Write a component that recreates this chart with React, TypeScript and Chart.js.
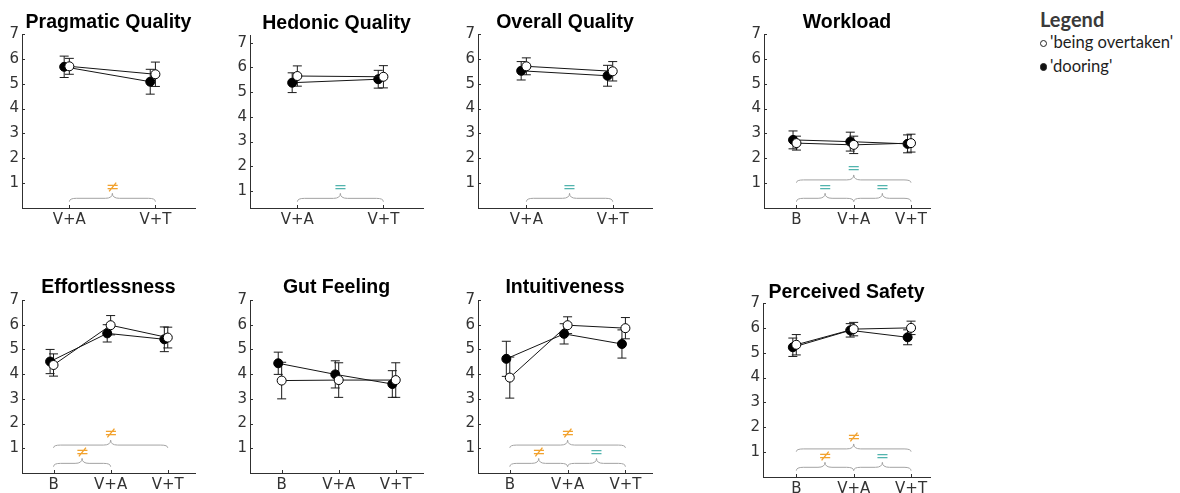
import React, { useEffect, useRef } from 'react';
import { Chart, registerables } from 'chart.js';

Chart.register(...registerables);

// ---------------- DATA ----------------
const CATEGORIES_3 = ['B', 'V+A', 'V+T'];
const CATEGORIES_2 = ['V+A', 'V+T'];
const SERIES_NAMES = ["'being overtaken'", "'dooring'"];
const Y_TICKS = [1, 2, 3, 4, 5, 6, 7];
const LEGEND_TITLE = 'Legend';

const PANEL_TITLES = [
  'Pragmatic Quality', 'Hedonic Quality', 'Overall Quality', 'Workload',
  'Effortlessness', 'Gut Feeling', 'Intuitiveness', 'Perceived Safety',
];

const pragmaticOvertaken = [5.70, 5.38];
const pragmaticOvertakenErr = [0.32, 0.49];
const pragmaticDooring = [5.68, 5.08];
const pragmaticDooringErr = [0.43, 0.50];

const hedonicOvertaken = [5.65, 5.62];
const hedonicOvertakenErr = [0.41, 0.45];
const hedonicDooring = [5.38, 5.52];
const hedonicDooringErr = [0.40, 0.36];

const overallOvertaken = [5.70, 5.50];
const overallOvertakenErr = [0.34, 0.39];
const overallDooring = [5.52, 5.32];
const overallDooringErr = [0.37, 0.42];

const workloadOvertaken = [2.61, 2.54, 2.61];
const workloadOvertakenErr = [0.28, 0.35, 0.36];
const workloadDooring = [2.74, 2.67, 2.58];
const workloadDooringErr = [0.36, 0.38, 0.36];

const effortOvertaken = [4.37, 5.98, 5.48];
const effortOvertakenErr = [0.45, 0.39, 0.42];
const effortDooring = [4.51, 5.65, 5.41];
const effortDooringErr = [0.49, 0.35, 0.50];

const gutOvertaken = [3.74, 3.76, 3.76];
const gutOvertakenErr = [0.74, 0.70, 0.70];
const gutDooring = [4.44, 3.99, 3.60];
const gutDooringErr = [0.45, 0.55, 0.54];

const intuitOvertaken = [3.86, 5.98, 5.86];
const intuitOvertakenErr = [0.83, 0.34, 0.43];
const intuitDooring = [4.62, 5.63, 5.22];
const intuitDooringErr = [0.71, 0.41, 0.57];

const safetyOvertaken = [5.32, 5.95, 6.00];
const safetyOvertakenErr = [0.41, 0.27, 0.27];
const safetyDooring = [5.22, 5.90, 5.62];
const safetyDooringErr = [0.37, 0.27, 0.30];

// significance comparisons: [from, to, result]
const pragmaticTests = [['V+A', 'V+T', '≠']];
const hedonicTests = [['V+A', 'V+T', '=']];
const overallTests = [['V+A', 'V+T', '=']];
const workloadTests = [['B', 'V+A', '='], ['V+A', 'V+T', '='], ['B', 'V+T', '=']];
const effortTests = [['B', 'V+A', '≠'], ['B', 'V+T', '≠']];
const gutTests: string[][] = [];
const intuitTests = [['B', 'V+A', '≠'], ['V+A', 'V+T', '='], ['B', 'V+T', '≠']];
const safetyTests = [['B', 'V+A', '≠'], ['V+A', 'V+T', '='], ['B', 'V+T', '≠']];

const PANELS = [
  { cats: CATEGORIES_2, ov: pragmaticOvertaken, ovErr: pragmaticOvertakenErr, dr: pragmaticDooring, drErr: pragmaticDooringErr, tests: pragmaticTests },
  { cats: CATEGORIES_2, ov: hedonicOvertaken, ovErr: hedonicOvertakenErr, dr: hedonicDooring, drErr: hedonicDooringErr, tests: hedonicTests },
  { cats: CATEGORIES_2, ov: overallOvertaken, ovErr: overallOvertakenErr, dr: overallDooring, drErr: overallDooringErr, tests: overallTests },
  { cats: CATEGORIES_3, ov: workloadOvertaken, ovErr: workloadOvertakenErr, dr: workloadDooring, drErr: workloadDooringErr, tests: workloadTests },
  { cats: CATEGORIES_3, ov: effortOvertaken, ovErr: effortOvertakenErr, dr: effortDooring, drErr: effortDooringErr, tests: effortTests },
  { cats: CATEGORIES_3, ov: gutOvertaken, ovErr: gutOvertakenErr, dr: gutDooring, drErr: gutDooringErr, tests: gutTests },
  { cats: CATEGORIES_3, ov: intuitOvertaken, ovErr: intuitOvertakenErr, dr: intuitDooring, drErr: intuitDooringErr, tests: intuitTests },
  { cats: CATEGORIES_3, ov: safetyOvertaken, ovErr: safetyOvertakenErr, dr: safetyDooring, drErr: safetyDooringErr, tests: safetyTests },
];

// ---------------- LAYOUT / STYLE ----------------
const FRAMES = [
  { left: 22, right: 195, top: 34, bottom: 208, xMin: -0.55, xMax: 1.46, yMin: 0, yMax: 7, titleGap: 11.2 },
  { left: 250, right: 423, top: 35, bottom: 208, xMin: -0.55, xMax: 1.46, yMin: 0.31, yMax: 7.31, titleGap: 11.5 },
  { left: 478, right: 652, top: 34, bottom: 208, xMin: -0.56, xMax: 1.455, yMin: 0, yMax: 7, titleGap: 11.2 },
  { left: 764, right: 930, top: 34, bottom: 208, xMin: -0.567, xMax: 2.332, yMin: 0, yMax: 7, titleGap: 11.4 },
  { left: 22, right: 195, top: 300, bottom: 473, xMin: -0.552, xMax: 2.477, yMin: 0, yMax: 7, titleGap: 12.4 },
  { left: 250, right: 423, top: 300, bottom: 473, xMin: -0.555, xMax: 2.478, yMin: 0, yMax: 7, titleGap: 12.3 },
  { left: 478, right: 652, top: 300, bottom: 473, xMin: -0.55, xMax: 2.46, yMin: 0, yMax: 7, titleGap: 12.4 },
  { left: 763, right: 930, top: 303, bottom: 477, xMin: -0.58, xMax: 2.33, yMin: 0, yMax: 7, titleGap: 10.8 },
];

const Y_AXIS_W = 22;
const TOP_SPACE = 34;
const BOTTOM_SPACE = 24;
const RIGHT_PAD = 8;
const TITLE_SIZE = 19.5;
const DOORING_SHIFT = -0.06;
const AXIS_COLOR = '#303030';
const TICK_COLOR = '#333333';
const BRACE_COLOR = '#a3a3a3';
const NEQ_COLOR = '#f2a22e';
const EQ_COLOR = '#52b4ae';
const BRACE_LEVELS = [
  { end: 0.255, body: 0.39, tip: 0.59, sym: 0.80 },
  { end: 1.02, body: 1.13, tip: 1.33, sym: 1.58 },
];

function drawBrace(ctx: CanvasRenderingContext2D, x1: number, x2: number, yEnd: number, yBody: number, yTip: number) {
  const xm = (x1 + x2) / 2;
  const r = Math.min(7, (x2 - x1) / 6);
  ctx.beginPath();
  ctx.moveTo(x1, yEnd);
  ctx.quadraticCurveTo(x1, yBody, x1 + r, yBody);
  ctx.lineTo(xm - r, yBody);
  ctx.quadraticCurveTo(xm, yBody, xm, yTip);
  ctx.quadraticCurveTo(xm, yBody, xm + r, yBody);
  ctx.lineTo(x2 - r, yBody);
  ctx.quadraticCurveTo(x2, yBody, x2, yEnd);
  ctx.stroke();
}

function Panel({ index }: { index: number }) {
  const ref = useRef<HTMLCanvasElement | null>(null);
  const f = FRAMES[index];
  const p = PANELS[index];
  const width = f.right - f.left + Y_AXIS_W + RIGHT_PAD;
  const height = f.bottom - f.top + TOP_SPACE + BOTTOM_SPACE;

  useEffect(() => {
    if (!ref.current) return;
    const cats = p.cats;
    const pts = (vals: number[], shift: number) => vals.map((v, i) => ({ x: i + shift, y: v }));

    const errorBars = {
      id: 'errorBars' + index,
      beforeDatasetsDraw(chart: any) {
        const { ctx, scales } = chart;
        const xs = scales.x, ys = scales.y;
        ctx.save();
        ctx.strokeStyle = '#1a1a1a';
        ctx.lineWidth = 1;
        chart.data.datasets.slice().reverse().forEach((ds: any) => {
          ds.data.forEach((pt: any, i: number) => {
            const e = ds.errors[i];
            const px = xs.getPixelForValue(pt.x);
            const t = ys.getPixelForValue(pt.y + e);
            const b = ys.getPixelForValue(pt.y - e);
            ctx.beginPath();
            ctx.moveTo(px, t); ctx.lineTo(px, b);
            ctx.moveTo(px - 4.5, t); ctx.lineTo(px + 4.5, t);
            ctx.moveTo(px - 4.5, b); ctx.lineTo(px + 4.5, b);
            ctx.stroke();
          });
        });
        ctx.restore();
      },
    };

    const braces = {
      id: 'braces' + index,
      beforeDatasetsDraw(chart: any) {
        const { ctx, scales } = chart;
        const xs = scales.x, ys = scales.y;
        ctx.save();
        p.tests.forEach((t: string[]) => {
          const a = cats.indexOf(t[0]);
          const b = cats.indexOf(t[1]);
          const lvl = BRACE_LEVELS[Math.abs(b - a) > 1 ? 1 : 0];
          const x1 = xs.getPixelForValue(a);
          const x2 = xs.getPixelForValue(b);
          ctx.strokeStyle = BRACE_COLOR;
          ctx.lineWidth = 1;
          drawBrace(ctx, x1, x2,
            ys.getPixelForValue(f.yMin + lvl.end),
            ys.getPixelForValue(f.yMin + lvl.body),
            ys.getPixelForValue(f.yMin + lvl.tip));
          ctx.fillStyle = t[2] === '=' ? EQ_COLOR : NEQ_COLOR;
          ctx.font = '16px "DejaVu Sans"';
          ctx.textAlign = 'center';
          ctx.textBaseline = 'middle';
          ctx.fillText(t[2], (x1 + x2) / 2, ys.getPixelForValue(f.yMin + lvl.sym));
        });
        ctx.restore();
      },
    };

    const innerTicks = {
      id: 'innerTicks' + index,
      afterDraw(chart: any) {
        const { ctx, scales, chartArea } = chart;
        ctx.save();
        ctx.strokeStyle = AXIS_COLOR;
        ctx.lineWidth = 1;
        ctx.beginPath();
        scales.y.ticks.forEach((t: any) => {
          const py = Math.round(scales.y.getPixelForValue(t.value)) + 0.5;
          ctx.moveTo(chartArea.left, py); ctx.lineTo(chartArea.left + 3, py);
        });
        scales.x.ticks.forEach((t: any) => {
          const px = Math.round(scales.x.getPixelForValue(t.value)) + 0.5;
          ctx.moveTo(px, chartArea.bottom); ctx.lineTo(px, chartArea.bottom - 3);
        });
        ctx.stroke();
        ctx.restore();
      },
    };

    const tickFont = { family: '"DejaVu Sans"', size: 15 };
    const chart = new Chart(ref.current, {
      type: 'scatter',
      data: {
        datasets: [
          {
            label: SERIES_NAMES[0], data: pts(p.ov, 0), errors: p.ovErr, showLine: true,
            borderColor: '#151515', borderWidth: 1, pointRadius: 4.5, pointBorderWidth: 1,
            pointBorderColor: '#000', pointBackgroundColor: '#fff', tension: 0, clip: false,
          } as any,
          {
            label: SERIES_NAMES[1], data: pts(p.dr, DOORING_SHIFT), errors: p.drErr, showLine: true,
            borderColor: '#151515', borderWidth: 1, pointRadius: 4.5, pointBorderWidth: 1,
            pointBorderColor: '#000', pointBackgroundColor: '#000', tension: 0, clip: false,
          } as any,
        ],
      },
      options: {
        responsive: false,
        animation: false,
        events: [],
        layout: { padding: { left: 0, right: RIGHT_PAD, top: 0, bottom: 0 } },
        plugins: {
          legend: { display: false },
          tooltip: { enabled: false },
          title: {
            display: true,
            text: PANEL_TITLES[index],
            fullSize: false,
            color: '#000',
            font: { family: '"Liberation Sans"', size: TITLE_SIZE, weight: 'bold', lineHeight: 1 },
            padding: { top: TOP_SPACE - f.titleGap - TITLE_SIZE / 2, bottom: f.titleGap - TITLE_SIZE / 2 },
          },
        },
        scales: {
          x: {
            type: 'linear',
            min: f.xMin,
            max: f.xMax,
            afterBuildTicks: (s: any) => { s.ticks = cats.map((_: string, i: number) => ({ value: i })); },
            afterFit: (s: any) => { s.height = BOTTOM_SPACE; },
            ticks: {
              autoSkip: false, maxRotation: 0, minRotation: 0, padding: 3,
              color: TICK_COLOR, font: tickFont,
              callback: (v: any) => cats[Math.round(Number(v))] ?? '',
            },
            grid: { display: true, drawOnChartArea: false, drawTicks: false },
            border: { display: true, color: AXIS_COLOR, width: 1 },
          },
          y: {
            type: 'linear',
            min: f.yMin,
            max: f.yMax,
            afterBuildTicks: (s: any) => { s.ticks = Y_TICKS.map((v) => ({ value: v })); },
            afterFit: (s: any) => { s.width = Y_AXIS_W; },
            ticks: { padding: 3, color: TICK_COLOR, font: tickFont, callback: (v: any) => String(v) },
            grid: { display: true, drawOnChartArea: false, drawTicks: false },
            border: { display: true, color: AXIS_COLOR, width: 1 },
          },
        },
      } as any,
      plugins: [braces, errorBars, innerTicks],
    });
    return () => chart.destroy();
  }, [index]);

  return (
    <canvas
      ref={ref}
      width={width}
      height={height}
      style={{ position: 'absolute', left: f.left - Y_AXIS_W, top: f.top - TOP_SPACE, width, height }}
    />
  );
}

function Legend() {
  const txt: React.CSSProperties = { position: 'absolute', whiteSpace: 'nowrap', fontFamily: 'Lato', lineHeight: 1.2 };
  const dot = (filled: boolean, cy: number): React.CSSProperties => ({
    position: 'absolute', left: 1039.5, top: cy - 3.75, width: 5.5, height: 5.5, borderRadius: '50%',
    border: '1px solid #222', background: filled ? '#111' : '#fff',
  });
  return (
    <>
      <div style={{ ...txt, left: 1040, top: 6.5, fontSize: 20, fontWeight: 'bold', color: '#3a3a3a' }}>{LEGEND_TITLE}</div>
      <div style={dot(false, 43.5)} />
      <div style={{ ...txt, left: 1050, top: 33, fontSize: 16.6, color: '#1e1e1e' }}>{SERIES_NAMES[0]}</div>
      <div style={dot(true, 67)} />
      <div style={{ ...txt, left: 1050, top: 56.5, fontSize: 16.6, color: '#1e1e1e' }}>{SERIES_NAMES[1]}</div>
    </>
  );
}

export default function App() {
  return (
    <div style={{ position: 'absolute', left: 0, top: 0, width: 1180, height: 493, overflow: 'hidden', background: '#fff' }}>
      {PANELS.map((_, i) => <Panel key={i} index={i} />)}
      <Legend />
    </div>
  );
}
